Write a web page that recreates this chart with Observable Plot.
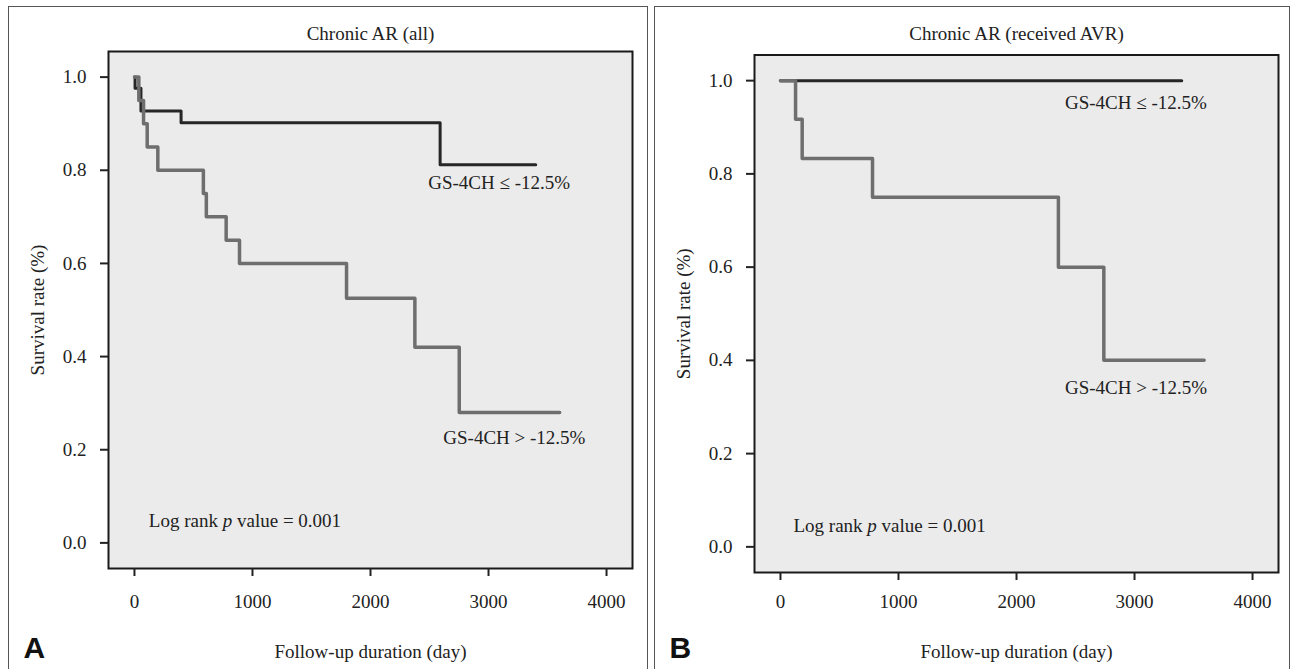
<!DOCTYPE html>
<html><head><meta charset="utf-8">
<script src="https://cdn.jsdelivr.net/npm/d3@7"></script>
<script src="https://cdn.jsdelivr.net/npm/@observablehq/plot@0.6"></script>
<style>
html,body{margin:0;padding:0;background:#fff;}
#page{position:relative;width:1292px;height:669px;overflow:hidden;background:#fff;}
.panel{position:absolute;top:0;width:646px;height:669px;}
.panel svg, .panel svg text{font-family:"Liberation Serif","Times New Roman",serif;}
.panel svg text.letter{font-family:"Liberation Sans Narrow","Liberation Sans",Arial,sans-serif;}
.border{position:absolute;top:6px;height:720px;border:1px solid #555;border-bottom:none;box-sizing:border-box;}
</style></head><body>
<div id="page">
  <div class="border" style="left:8px;width:640px;"></div>
  <div class="border" style="left:654px;width:636px;"></div>
  <div class="panel" id="pA" style="left:0px;"></div>
  <div class="panel" id="pB" style="left:646px;"></div>
</div>
<script>
// ---- data ----
const xTicks = [0, 1000, 2000, 3000, 4000];
const yTicks = [0, 0.2, 0.4, 0.6, 0.8, 1.0];
const groups = ["GS-4CH ≤ -12.5%", "GS-4CH > -12.5%"];
const panelTitles = ["Chronic AR (all)", "Chronic AR (received AVR)"];
const panelLetters = ["A", "B"];
const xTitle = "Follow-up duration (day)";
const yTitle = "Survival rate (%)";
const pText = "Log rank p value = 0.001";

// Panel A (all)
const daysA_low  = [0, 5, 55, 395, 2590, 3400];
const survA_low  = [1.0, 0.976, 0.927, 0.902, 0.812, 0.812];
const daysA_high = [0, 37, 77, 108, 198, 584, 609, 777, 890, 1797, 2376, 2752, 3603];
const survA_high = [1.0, 0.95, 0.90, 0.85, 0.80, 0.75, 0.70, 0.65, 0.60, 0.525, 0.42, 0.28, 0.28];
// Panel B (received AVR)
const daysB_low  = [0, 3400];
const survB_low  = [1.0, 1.0];
const daysB_high = [0, 128, 184, 780, 2355, 2740, 3590];
const survB_high = [1.0, 0.917, 0.833, 0.75, 0.60, 0.40, 0.40];

// annotation anchors (data coordinates)
const labelDaysA = [2489, 2617];
const labelSurvA = [0.773, 0.2245];
const labelDaysB = [2411, 2411];
const labelSurvB = [0.952, 0.342];
const pDays = [122, 110];
const pSurv = [0.048, 0.044];

const toRows = (days, surv) => days.map((d, i) => ({day: d, surv: surv[i]}));
const SERIF = "Liberation Serif, Times New Roman, serif";

function makePanel(idx, low, high, labDays, labSurv, layout) {
  const labels = groups.map((g, i) => ({day: labDays[i], surv: labSurv[i], text: g}));
  const txt = {fontSize: 19, fill: "#222", fontFamily: SERIF};
  const mid = {textAnchor: "middle", lineAnchor: "middle"};
  const svg = Plot.plot({
    width: 646, height: 669,
    marginLeft: 108, marginRight: 14,
    marginTop: layout.top, marginBottom: 669 - layout.bottom,
    x: {domain: [-220, 4220]},
    y: {domain: [-0.055, 1.055]},
    style: {background: "transparent", fontSize: "19px", color: "#222"},
    marks: [
      Plot.frame({fill: "#ebebeb", stroke: null}),
      Plot.line(low, {x: "day", y: "surv", curve: "step-after", stroke: "#262626", strokeWidth: 3}),
      Plot.line(high, {x: "day", y: "surv", curve: "step-after", stroke: "#6e6e6e", strokeWidth: 3.5}),
      Plot.text(labels, {x: "day", y: "surv", text: "text", textAnchor: "start", lineAnchor: "middle", ...txt}),
      Plot.text([pText], {x: pDays[idx], y: pSurv[idx], text: d => d, textAnchor: "start", lineAnchor: "middle", ...txt}),
      Plot.frame({stroke: "#1a1a1a", strokeWidth: 2}),
      Plot.axisX({ticks: xTicks, tickSize: 8, tickPadding: layout.xPad, tickFormat: d => String(d), label: null, strokeWidth: 2, ...txt}),
      Plot.axisY({ticks: yTicks, tickSize: 8, tickPadding: 14, tickFormat: d3.format(".1f"), label: null, strokeWidth: 2, ...txt}),
      Plot.text([panelTitles[idx]], {frameAnchor: "top", dy: layout.titleDy, text: d => d, ...mid, ...txt}),
      Plot.text([xTitle], {frameAnchor: "bottom", dy: layout.xTitleDy, text: d => d, ...mid, ...txt}),
      Plot.text([yTitle], {frameAnchor: "left", dx: -71, rotate: -90, text: d => d, ...mid, ...txt}),
      Plot.text([panelLetters[idx]], {frameAnchor: "bottom-left", dx: -85, dy: layout.letterDy, text: d => d, textAnchor: "start", lineAnchor: "middle",
        fontFamily: "Liberation Sans Narrow, Liberation Sans, Arial, sans-serif", fontWeight: "bold", fontSize: 30, fill: "#111"})
    ]
  });
  svg.querySelectorAll("text").forEach(t => {
    if (t.textContent === pText) {
      const parts = [["Log rank ", null], ["p", "italic"], [" value = 0.001", null]];
      while (t.firstChild) t.removeChild(t.firstChild);
      t.setAttribute("xml:space", "preserve");
      t.style.whiteSpace = "pre";
      for (const [s, st] of parts) {
        const ts = document.createElementNS("http://www.w3.org/2000/svg", "tspan");
        ts.textContent = s;
        if (st) ts.setAttribute("font-style", st);
        t.appendChild(ts);
      }
    }
    if (panelLetters.includes(t.textContent)) t.classList.add("letter");
  });
  return svg;
}

document.getElementById("pA").appendChild(
  makePanel(0, toRows(daysA_low, survA_low), toRows(daysA_high, survA_high), labelDaysA, labelSurvA,
    {top: 51, bottom: 568, xPad: 18, titleDy: -18, xTitleDy: 83, letterDy: 80}));
document.getElementById("pB").appendChild(
  makePanel(1, toRows(daysB_low, survB_low), toRows(daysB_high, survB_high), labelDaysB, labelSurvB,
    {top: 54.5, bottom: 572, xPad: 14, titleDy: -21, xTitleDy: 79, letterDy: 76}));
</script>
</body></html>
